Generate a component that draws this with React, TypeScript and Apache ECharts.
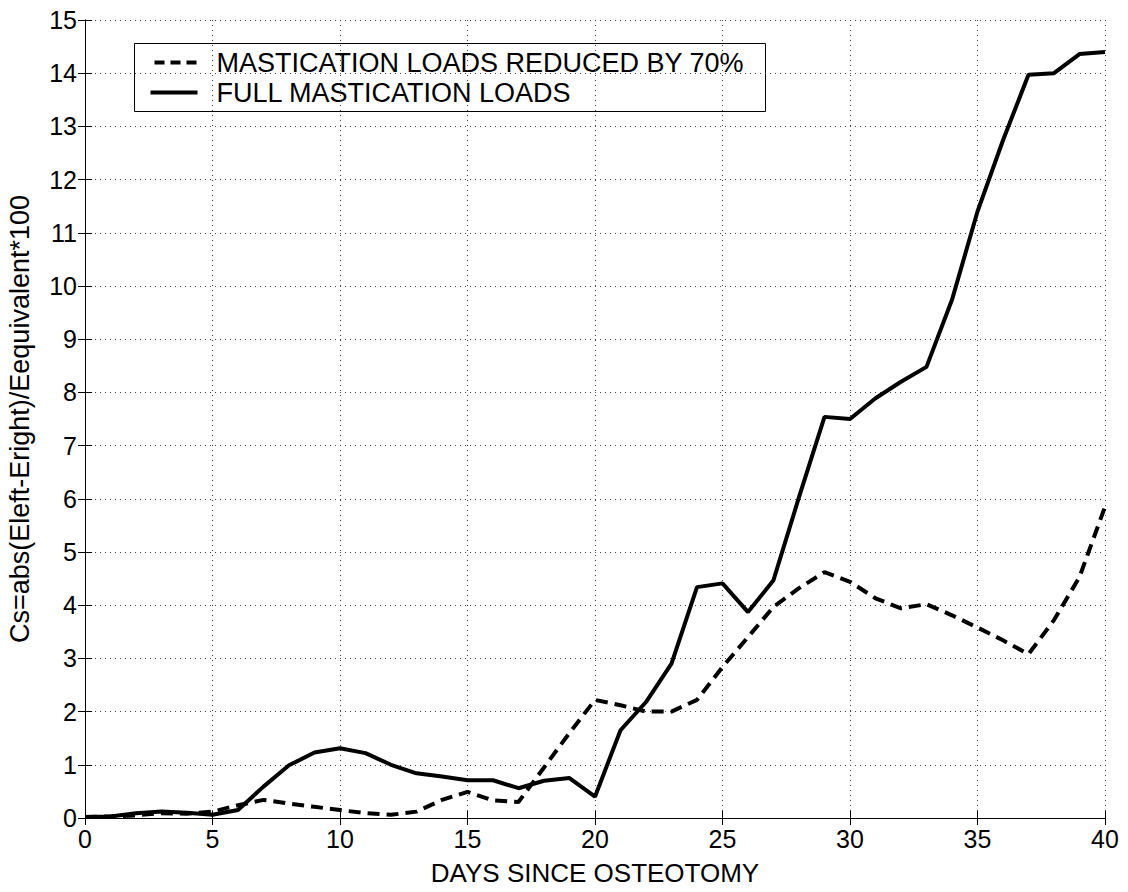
import React, { useEffect, useRef } from "react";
import * as echarts from "echarts";

const days: number[] = Array.from({ length: 41 }, (_, i) => i);

const reducedLoads: number[] = [
  0.02, 0.03, 0.05, 0.09, 0.08, 0.12, 0.24, 0.34, 0.27, 0.21,
  0.15, 0.09, 0.06, 0.12, 0.34, 0.49, 0.33, 0.3, 0.95, 1.6,
  2.22, 2.12, 2.0, 2.0, 2.22, 2.84, 3.4, 3.97, 4.32, 4.62,
  4.44, 4.13, 3.94, 4.02, 3.81, 3.58, 3.34, 3.08, 3.72, 4.53,
  5.85,
];

const fullLoads: number[] = [
  0.02, 0.03, 0.09, 0.12, 0.1, 0.06, 0.15, 0.59, 0.99, 1.23,
  1.31, 1.22, 1.0, 0.84, 0.78, 0.71, 0.71, 0.56, 0.7, 0.75,
  0.4, 1.65, 2.18, 2.9, 4.34, 4.41, 3.87, 4.47, 6.03, 7.54,
  7.5, 7.89, 8.2, 8.48, 9.74, 11.4, 12.74, 13.97, 14.0, 14.36,
  14.4,
];

const seriesNames: string[] = [
  "MASTICATION LOADS REDUCED BY 70%",
  "FULL MASTICATION LOADS",
];
const xTitle = "DAYS SINCE OSTEOTOMY";
const yTitle = "Cs=abs(Eleft-Eright)/Eequivalent*100";

const FONT = "Liberation Sans, Arial, sans-serif";

export default function App() {
  const ref = useRef<HTMLDivElement>(null);
  useEffect(() => {
    if (!ref.current) return;
    const chart = echarts.init(ref.current, undefined, { renderer: "svg" });
    const gridLine = {
      show: true,
      lineStyle: { color: "#444", type: [1, 4] as any, width: 1 },
    };
    const tickIn = { show: true, inside: true, length: 7, lineStyle: { color: "#000", width: 1 } };
    const dash = [12, 7];
    chart.setOption({
      animation: false,
      backgroundColor: "#fff",
      grid: {
        left: 85,
        right: 23,
        top: 20,
        bottom: 74,
        show: false,
        containLabel: false,
        outerBoundsMode: "none",
      },
      graphic: [
        {
          type: "group",
          left: 134,
          top: 43,
          z: 100,
          children: [
            {
              type: "rect",
              shape: { x: 0, y: 0, width: 631, height: 68 },
              style: { fill: "#fff", stroke: "#000", lineWidth: 1 },
            },
            {
              type: "line",
              shape: { x1: 20, y1: 19, x2: 63, y2: 19 },
              style: { stroke: "#000", lineWidth: 4, lineDash: [10, 6] },
            },
            {
              type: "line",
              shape: { x1: 16, y1: 49, x2: 63, y2: 49 },
              style: { stroke: "#000", lineWidth: 4 },
            },
            {
              type: "text",
              x: 82,
              y: 19,
              style: {
                text: seriesNames[0],
                fontFamily: FONT,
                fontSize: 27,
                fill: "#000",
                verticalAlign: "middle",
              },
            },
            {
              type: "text",
              x: 82,
              y: 49,
              style: {
                text: seriesNames[1],
                fontFamily: FONT,
                fontSize: 27,
                fill: "#000",
                verticalAlign: "middle",
              },
            },
          ],
        },
      ],
      xAxis: [
        {
          type: "value",
          min: 0,
          max: 40,
          interval: 5,
          name: xTitle,
          nameLocation: "middle",
          nameGap: 42,
          nameTextStyle: { fontFamily: FONT, fontSize: 26, color: "#000" },
          axisLine: { show: true, lineStyle: { color: "#000", width: 1 } },
          axisTick: tickIn,
          axisLabel: { fontFamily: FONT, fontSize: 25, color: "#000", margin: 8 },
          splitLine: gridLine,
        },
        {
          type: "value",
          position: "top",
          min: 0,
          max: 40,
          interval: 5,
          axisLine: { show: true, lineStyle: { color: "#000", width: 1 } },
          axisTick: tickIn,
          axisLabel: { show: false },
          splitLine: { show: false },
        },
      ],
      yAxis: [
        {
          type: "value",
          min: 0,
          max: 15,
          interval: 1,
          name: yTitle,
          nameLocation: "middle",
          nameGap: 52,
          nameTextStyle: { fontFamily: FONT, fontSize: 27, color: "#000" },
          axisLine: { show: true, lineStyle: { color: "#000", width: 1 } },
          axisTick: tickIn,
          axisLabel: { fontFamily: FONT, fontSize: 25, color: "#000", margin: 8 },
          splitLine: gridLine,
        },
        {
          type: "value",
          position: "right",
          min: 0,
          max: 15,
          interval: 1,
          axisLine: { show: true, lineStyle: { color: "#000", width: 1 } },
          axisTick: tickIn,
          axisLabel: { show: false },
          splitLine: { show: false },
        },
      ],
      series: [
        {
          name: seriesNames[0],
          type: "line",
          xAxisIndex: 0,
          yAxisIndex: 0,
          showSymbol: false,
          symbol: "none",
          data: days.map((d, i) => [d, reducedLoads[i]]),
          lineStyle: { color: "#000", width: 4, type: dash as any },
          itemStyle: { color: "#000" },
        },
        {
          name: seriesNames[1],
          type: "line",
          xAxisIndex: 0,
          yAxisIndex: 0,
          showSymbol: false,
          symbol: "none",
          data: days.map((d, i) => [d, fullLoads[i]]),
          lineStyle: { color: "#000", width: 4 },
          itemStyle: { color: "#000" },
        },
      ],
    });
    return () => chart.dispose();
  }, []);
  return (
    <div
      ref={ref}
      style={{ position: "fixed", left: 0, top: 0, width: 1128, height: 892, background: "#fff" }}
    />
  );
}
